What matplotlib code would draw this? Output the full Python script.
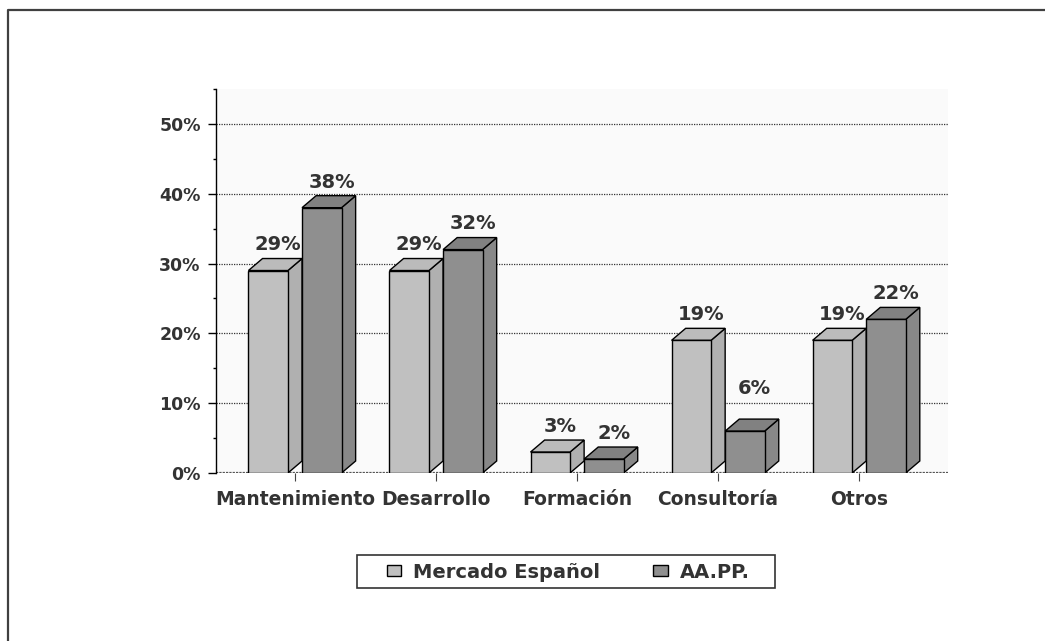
import matplotlib
matplotlib.use("Agg")
import matplotlib.pyplot as plt
from matplotlib.patches import Rectangle, Polygon, Patch
from matplotlib.lines import Line2D

# Data
categories = ["Mantenimiento", "Desarrollo", "Formación", "Consultoría", "Otros"]
mercado = [29, 29, 3, 19, 19]
aapp = [38, 32, 2, 6, 22]
series_names = ["Mercado Español", "AA.PP."]
y_ticks = [0, 10, 20, 30, 40, 50]

W, H = 1045, 641
fig = plt.figure(figsize=(W / 100, H / 100), dpi=100, facecolor="white")
plt.rcParams["font.family"] = ["DejaVu Sans"]
TXT = "#333333"

ax = fig.add_axes([216 / W, (H - 473) / H, (948 - 216) / W, (473 - 89) / H])
ax.set_facecolor("#FAFAFA")
ax.set_xlim(-0.56, 4.63)
ax.set_ylim(0, 55)

for s in ["top", "right", "bottom"]:
    ax.spines[s].set_visible(False)
ax.spines["left"].set_color("black")
ax.spines["left"].set_linewidth(1.0)

# dotted gridlines and baseline
for v in y_ticks[1:]:
    ax.axhline(v, color="#333333", lw=0.9, ls=(0, (1, 1)), zorder=1)
ax.axhline(0, color="#555555", lw=1.6, ls=(0, (1, 0.5)), zorder=1)

ax.set_yticks(y_ticks)
ax.set_yticklabels([f"{v}%" for v in y_ticks], fontsize=12.5,
                   fontweight="bold", color=TXT)
ax.set_yticks([5, 15, 25, 35, 45, 55], minor=True)
ax.tick_params(axis="y", which="major", direction="out", length=6,
               width=1, pad=5)
ax.tick_params(axis="y", which="minor", direction="out", length=2.5,
               width=1)

ax.set_xticks(range(len(categories)))
ax.set_xticklabels(categories, fontsize=13.5, fontweight="bold", color=TXT)
ax.tick_params(axis="x", direction="out", length=6, width=0.8,
               color="#444444", pad=6)

# pseudo 3D bars
w = 0.28
dx, dy = 0.1, 1.72
offsets = [-0.33, 0.05]
faces = [("#C0C0C0", "#BBBBBB", "#B0B0B0"),
         ("#8F8F8F", "#818181", "#888888")]
label_lift = {(3, 1): 2.4}

for i in range(len(categories)):
    for s, vals in enumerate([mercado, aapp]):
        v = vals[i]
        x0 = i + offsets[s]
        front, top, side = faces[s]
        ax.add_patch(Polygon([(x0 + w, 0), (x0 + w + dx, dy),
                              (x0 + w + dx, v + dy), (x0 + w, v)],
                             closed=True, fc=side, ec="black", lw=1.0,
                             zorder=3))
        ax.add_patch(Polygon([(x0, v), (x0 + w, v), (x0 + w + dx, v + dy),
                              (x0 + dx, v + dy)],
                             closed=True, fc=top, ec="black", lw=1.0,
                             zorder=3))
        ax.add_patch(Rectangle((x0, 0), w, v, fc=front, ec="black",
                               lw=1.0, zorder=4))
        ax.annotate(f"{v}%", (x0 + w / 2 + dx * 0.7,
                               v + dy + label_lift.get((i, s), 0)),
                    xytext=(0, 3), textcoords="offset points",
                    ha="center", va="bottom", fontsize=14,
                    fontweight="bold", color=TXT, zorder=5)

# legend box
fig.add_artist(Rectangle((357 / W, 1 - 588 / H), (775 - 357) / W, 33 / H,
                         transform=fig.transFigure, fc="white",
                         ec="#333333", lw=1.2))
handles = [Patch(fc=faces[0][0], ec="black", lw=1.0),
           Patch(fc=faces[1][0], ec="black", lw=1.0)]
fig.legend(handles, series_names, loc="center",
           bbox_to_anchor=(568 / W, 1 - 572 / H), ncol=2, frameon=False,
           prop={"size": 14, "weight": "bold"}, labelcolor=TXT,
           handlelength=0.75, handleheight=0.45, handletextpad=0.6,
           columnspacing=2.75)

# outer frame (left and top edges)
fig.add_artist(Line2D([8 / W, 8 / W, 1.0], [0.0, 1 - 10 / H, 1 - 10 / H],
                      transform=fig.transFigure, color="#404040", lw=1.6))

fig.savefig("out.png", dpi=100, facecolor="white")
